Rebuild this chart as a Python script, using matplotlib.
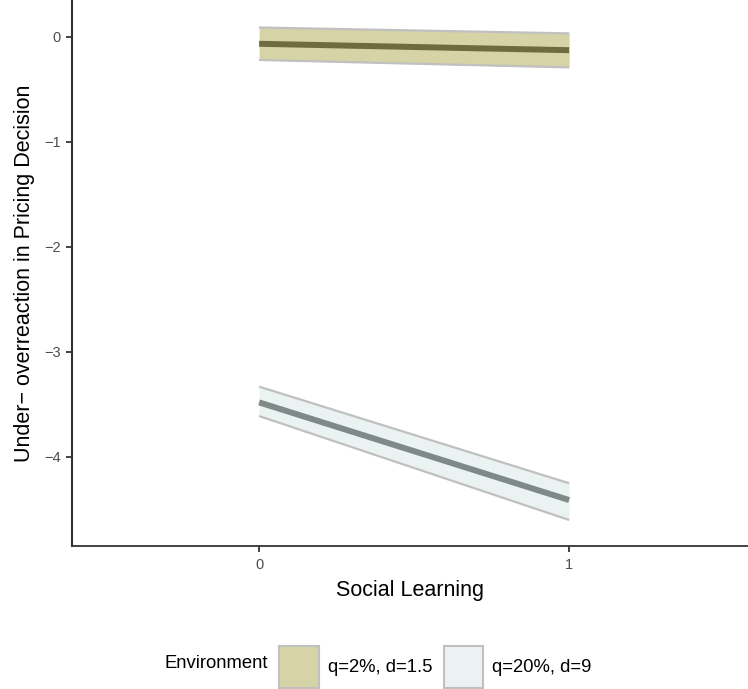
import matplotlib.pyplot as plt
from matplotlib.patches import Patch

# === Data ===
social_learning = [0, 1]
env_labels = ["q=2%, d=1.5", "q=20%, d=9"]
fit_low_q = [-0.065, -0.126]
upper_low_q = [0.090, 0.034]
lower_low_q = [-0.219, -0.290]
fit_high_q = [-3.48, -4.41]
upper_high_q = [-3.33, -4.25]
lower_high_q = [-3.61, -4.60]
y_ticks = [0, -1, -2, -3, -4]

fill_colors = ["#d6d3a6", "#ebf3f2"]
line_colors = ["#6e6b40", "#7f8a88"]
edge_gray = "#c0c0c0"

plt.rcParams["font.family"] = ["Liberation Sans", "DejaVu Sans"]

# === Plot ===
fig = plt.figure(figsize=(7.48, 6.89), dpi=100)
ax = fig.add_axes([0.0965, 0.2075, 0.9035, 0.7925])

series = [
    (fit_low_q, upper_low_q, lower_low_q),
    (fit_high_q, upper_high_q, lower_high_q),
]
for (fit, up, lo), fc, lc in zip(series, fill_colors, line_colors):
    ax.fill_between(social_learning, lo, up, color=fc, linewidth=0, zorder=1)
    ax.plot(social_learning, up, color=edge_gray, lw=1.6, zorder=2, solid_capstyle="butt")
    ax.plot(social_learning, lo, color=edge_gray, lw=1.6, zorder=2, solid_capstyle="butt")
    ax.plot(social_learning, fit, color=lc, lw=4.3, zorder=3, solid_capstyle="butt")

ax.set_xlim(-0.603, 1.577)
ax.set_ylim(-4.848, 0.352)
ax.set_xticks(social_learning)
ax.set_yticks(y_ticks)
ax.set_yticklabels(["0", "\u22121", "\u22122", "\u22123", "\u22124"])

ax.spines["top"].set_visible(False)
ax.spines["right"].set_visible(False)
ax.spines["bottom"].set_color("#333333")
ax.spines["bottom"].set_linewidth(1.3)
# left axis line drawn explicitly along the x-limit
ax.spines["left"].set_visible(False)
ax.axvline(-0.603, color="#333333", lw=1.5, clip_on=False, zorder=5)
ax.tick_params(axis="both", colors="#333333", length=4.5, width=1.3,
               labelsize=10.5, labelcolor="#4d4d4d", pad=4)

ax.set_xlabel("Social Learning", fontsize=15.5, labelpad=6)
ax.set_ylabel("Under\u2212 overreaction in Pricing Decision", fontsize=15.5, labelpad=6)

# Legend along the bottom
handles = [Patch(facecolor=c, edgecolor=edge_gray, linewidth=1.5) for c in fill_colors]
fig.text(268 / 748, 1 - 664 / 689, "Environment", ha="right", va="center", fontsize=13.3)
fig.legend(handles, env_labels, loc="center left", bbox_to_anchor=(279 / 748, 1 - 667 / 689),
           ncol=2, frameon=False, fontsize=13.3, handlelength=2.15, handleheight=3.1,
           handletextpad=0.5, columnspacing=0.6, borderpad=0, borderaxespad=0)

fig.savefig("out.png", dpi=100)
